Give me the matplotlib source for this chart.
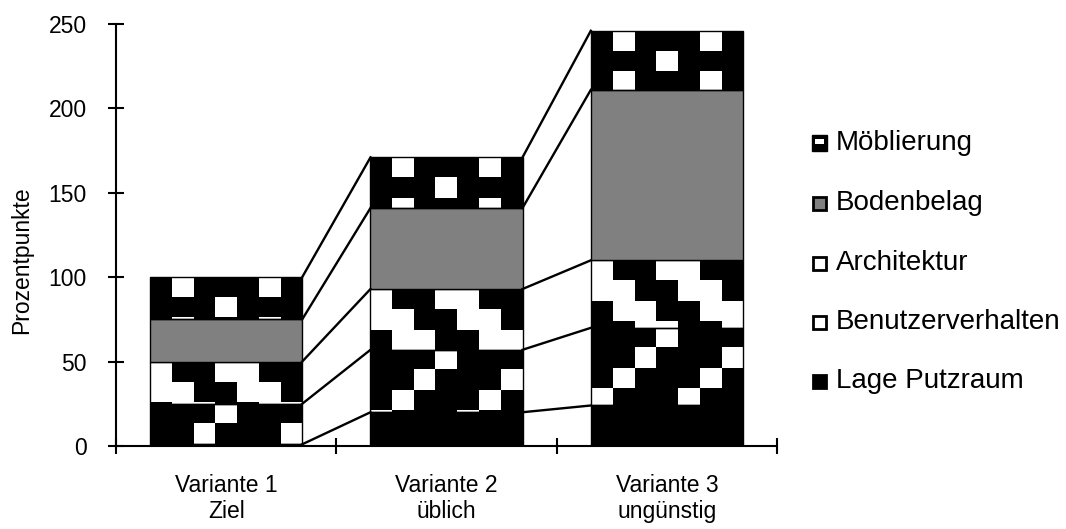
import numpy as np
import matplotlib.pyplot as plt
from matplotlib.patches import Rectangle

plt.rcParams['font.family'] = ['Liberation Sans', 'DejaVu Sans']

categories = ["Variante 1\nZiel", "Variante 2\nüblich", "Variante 3\nungünstig"]
series_names = ["Lage Putzraum", "Benutzerverhalten", "Architektur", "Bodenbelag", "Möblierung"]
lage_putzraum = [1, 20, 24]
benutzerverhalten = [24, 37, 46]
architektur = [25, 36, 40]
bodenbelag = [25, 48, 101]
moeblierung = [25, 30, 35]
series = [lage_putzraum, benutzerverhalten, architektur, bodenbelag, moeblierung]

# bitmap tiles for the excel-like fill patterns (1 = white, row 0 = top)
tiles = {
    "Benutzerverhalten": [[0, 0, 0, 1], [0, 0, 1, 0], [0, 1, 0, 0], [1, 0, 0, 0]],
    "Architektur": [[1, 0, 0, 1], [1, 1, 0, 0], [0, 1, 1, 0], [0, 0, 1, 1]],
    "Möblierung": [[0, 1, 0, 0], [0, 0, 0, 1]],
}
faces = {"Lage Putzraum": "black", "Bodenbelag": "#808080"}

W, H = 1066, 529
fig = plt.figure(figsize=(W / 100, H / 100), dpi=100)
ax = fig.add_axes([116 / W, (H - 446) / H, (777 - 116) / W, (446 - 24) / H])

x = np.arange(len(categories))
bar_w = 0.69
cell_h = 12.0


def fill_pattern(rect, tile):
    x0, y0 = rect.get_x(), rect.get_y()
    w, h = rect.get_width(), rect.get_height()
    t = np.array(tile)
    ncol = 7
    nrow = int(np.ceil(h / cell_h)) + 1
    arr = np.array([[t[r % t.shape[0]][c % t.shape[1]] for c in range(ncol)] for r in range(nrow)])
    img = ax.imshow(arr, cmap="gray", vmin=0, vmax=1, interpolation="nearest",
                    extent=[x0, x0 + w, y0 + h - nrow * cell_h, y0 + h],
                    origin="upper", aspect="auto", zorder=1)
    img.set_clip_path(rect)


bottom = np.zeros(len(categories))
tops = []
for name, vals in zip(series_names, series):
    if name in faces:
        bars = ax.bar(x, vals, bar_w, bottom=bottom, color=faces[name], edgecolor="black",
                      linewidth=1, zorder=2)
    else:
        bars = ax.bar(x, vals, bar_w, bottom=bottom, facecolor="none", edgecolor="black",
                      linewidth=1, zorder=2)
        for b in bars:
            fill_pattern(b, tiles[name])
    bottom = bottom + np.array(vals)
    tops.append(bottom.copy())

# series lines between the bars
for top in tops:
    for i in range(len(categories) - 1):
        ax.plot([x[i] + bar_w / 2, x[i + 1] - bar_w / 2], [top[i], top[i + 1]],
                color="black", linewidth=1.7, zorder=3)

ax.set_xlim(-0.5, 2.5)
ax.set_ylim(0, 250)
ax.set_yticks([0, 50, 100, 150, 200, 250])
ax.set_xticks([-0.5, 0.5, 1.5, 2.5])
ax.set_xticklabels([])
ax.set_xticks(x, minor=True)
ax.set_xticklabels(categories, minor=True, fontsize=16.5, linespacing=1.2)
ax.tick_params(axis="x", which="minor", length=0, pad=20)
ax.tick_params(axis="both", which="major", direction="inout", length=12, width=1.5,
               labelsize=16.5)
ax.tick_params(axis="y", pad=15)
for s in ["top", "right"]:
    ax.spines[s].set_visible(False)
for s in ["left", "bottom"]:
    ax.spines[s].set_linewidth(1.5)
ax.set_ylabel("Prozentpunkte", fontsize=16.5)
ax.yaxis.set_label_coords(-0.126, 0.44)

# legend, drawn by hand like the excel one
leg_y = [143, 203, 263, 322, 381]
legend_names = series_names[::-1]
for name, yc in zip(legend_names, leg_y):
    px, py, s = 812, yc - 7.5, 15
    if name == "Möblierung":
        fig.add_artist(Rectangle((px / W, (H - py - s) / H), s / W, s / H,
                                 transform=fig.transFigure, facecolor="black", edgecolor="black"))
        fig.add_artist(Rectangle(((px + 3) / W, (H - py - 8) / H), (s - 6) / W, 5 / H,
                                 transform=fig.transFigure, facecolor="white", edgecolor="none"))
    else:
        fc = faces.get(name, "white")
        fig.add_artist(Rectangle(((px + 1) / W, (H - py - s + 1) / H), (s - 2) / W, (s - 2) / H,
                                 transform=fig.transFigure, facecolor=fc, edgecolor="black",
                                 linewidth=2))
    fig.text(836 / W, (H - yc) / H, name, fontsize=20, va="center", ha="left")

fig.savefig("out.png", dpi=100)
